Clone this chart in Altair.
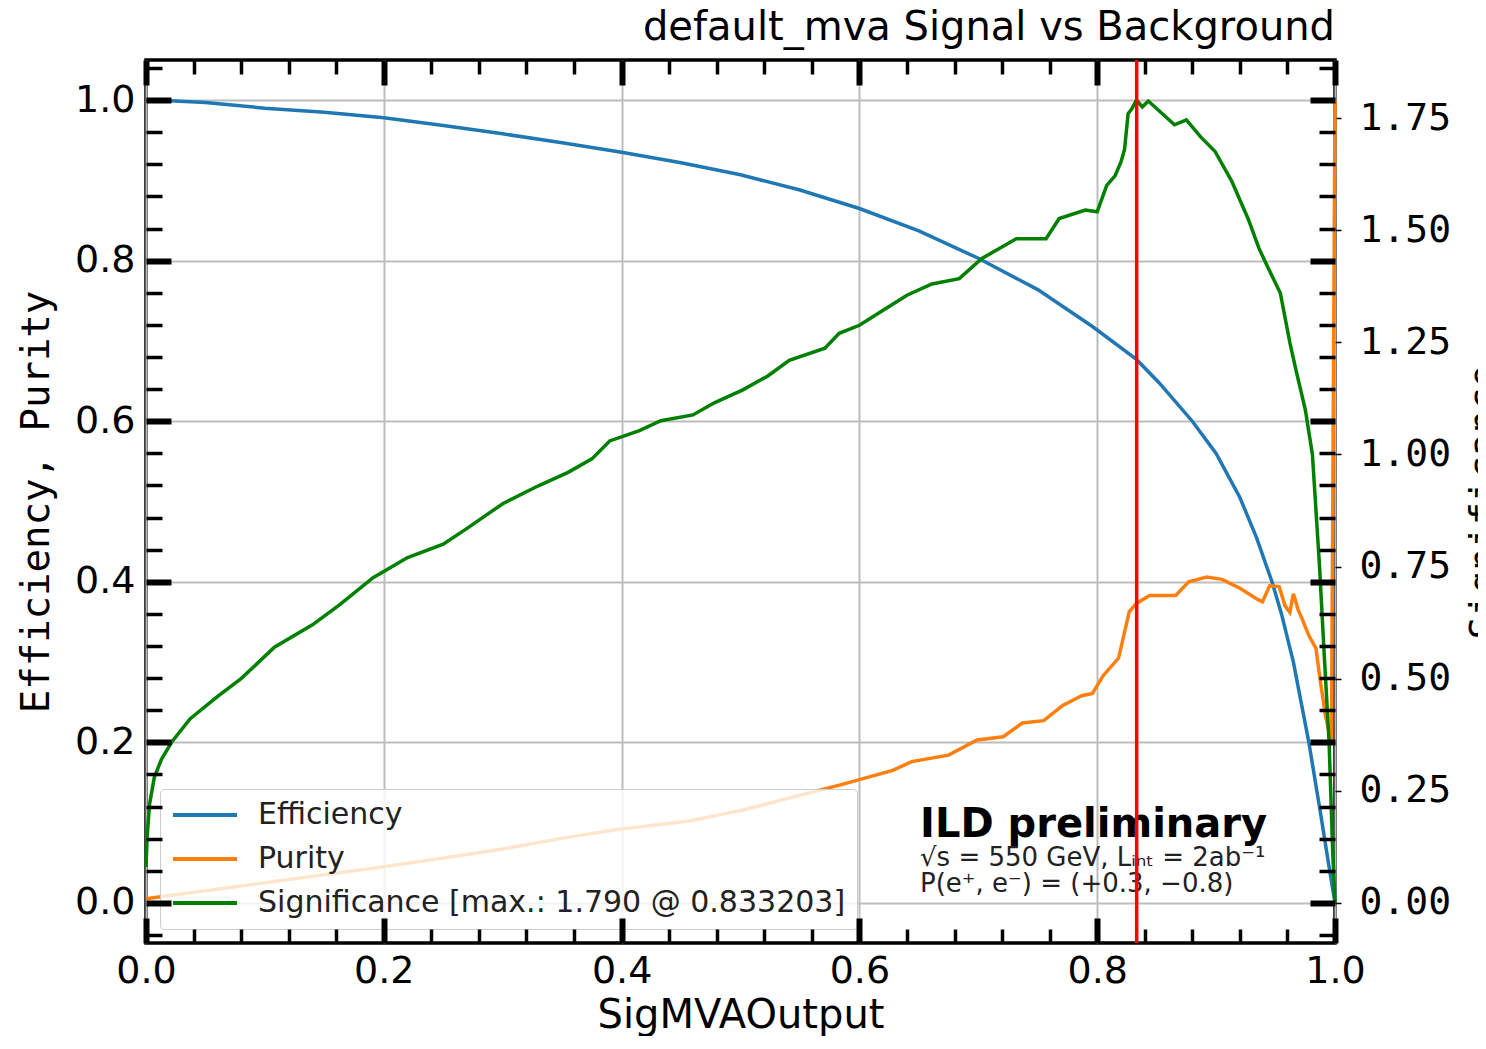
import altair as alt
import pandas as pd

# ---------------- data ----------------
x_eff = [0.0, 0.02, 0.05, 0.1, 0.15, 0.2, 0.247, 0.3, 0.35, 0.4, 0.45, 0.5, 0.55, 0.6,
         0.65, 0.7, 0.75, 0.796, 0.833, 0.852, 0.88, 0.9, 0.92, 0.934, 0.947, 0.955,
         0.965, 0.978, 0.988, 0.995, 1.0]
eff = [1.0, 0.9993, 0.997, 0.99, 0.985, 0.978, 0.969, 0.958, 0.947, 0.935, 0.922, 0.907,
       0.888, 0.865, 0.837, 0.803, 0.764, 0.718, 0.677, 0.648, 0.60, 0.56, 0.505, 0.455,
       0.40, 0.36, 0.30, 0.20, 0.11, 0.045, 0.0]

x_pur = [0.0, 0.05, 0.1, 0.15, 0.2, 0.25, 0.3, 0.348, 0.395, 0.457, 0.503, 0.55, 0.584,
         0.628, 0.644, 0.675, 0.699, 0.721, 0.737, 0.755, 0.771, 0.787, 0.796, 0.805,
         0.818, 0.827, 0.833, 0.844, 0.866, 0.877, 0.892, 0.905, 0.92, 0.935, 0.939,
         0.945, 0.953, 0.958, 0.962, 0.965, 0.969, 0.972, 0.978, 0.984, 0.987, 0.992,
         0.997, 1.0]
pur = [0.005, 0.015, 0.025, 0.035, 0.045, 0.056, 0.067, 0.080, 0.091, 0.102, 0.116, 0.134,
       0.147, 0.165, 0.176, 0.184, 0.203, 0.207, 0.224, 0.227, 0.246, 0.258, 0.261, 0.283,
       0.305, 0.363, 0.373, 0.383, 0.383, 0.400, 0.406, 0.403, 0.392, 0.378, 0.375,
       0.395, 0.394, 0.370, 0.362, 0.385, 0.365, 0.355, 0.333, 0.317, 0.283, 0.233,
       0.20, 1.0]

x_sig = [0.0, 0.001, 0.003, 0.007, 0.013, 0.022, 0.037, 0.06, 0.08, 0.108,
         0.14, 0.163, 0.191, 0.22, 0.25, 0.27, 0.30, 0.33, 0.355, 0.375,
         0.39, 0.415, 0.433, 0.46, 0.478, 0.502, 0.523, 0.541, 0.571, 0.583,
         0.60, 0.625, 0.64, 0.661, 0.684, 0.703, 0.732, 0.757, 0.768, 0.79,
         0.80, 0.808, 0.815, 0.82, 0.823, 0.826, 0.829, 0.833, 0.838, 0.843,
         0.865, 0.875, 0.887, 0.899, 0.913, 0.927, 0.936, 0.943, 0.954, 0.962,
         0.967, 0.975, 0.981, 0.987, 0.991, 0.995, 0.998, 1.0]
sig = [0.08, 0.15, 0.22, 0.28, 0.32, 0.36, 0.41, 0.46, 0.50, 0.57,
       0.62, 0.665, 0.725, 0.77, 0.80, 0.835, 0.89, 0.93, 0.96, 0.99,
       1.03, 1.053, 1.075, 1.088, 1.115, 1.144, 1.175, 1.21, 1.237, 1.27,
       1.288, 1.33, 1.355, 1.38, 1.392, 1.437, 1.481, 1.481, 1.526, 1.545,
       1.541, 1.60, 1.621, 1.652, 1.68, 1.76, 1.77, 1.79, 1.775, 1.788,
       1.735, 1.746, 1.708, 1.676, 1.61, 1.525, 1.46, 1.42, 1.36, 1.25,
       1.19, 1.10, 1.00, 0.75, 0.55, 0.36, 0.12, 0.0]

series_names = ["Efficiency", "Purity", "Significance [max.: 1.790 @ 0.833203]"]
series_colors = ["#1f77b4", "#ff7f0e", "#008000"]
cut_value = [0.833203]

title_text = "default_mva Signal vs Background"
x_title = "SigMVAOutput"
y_title = "Efficiency, Purity"
y2_title = "Significance"

ann_x = [0.651, 0.651, 0.651]
ann_y = [0.0822, 0.0461, 0.0137]
ann_text = ["ILD preliminary",
            "\u221as = 550 GeV, L\u1d62\u2099\u209c = 2ab\u207b\u00b9",
            "P(e\u207a, e\u207b) = (+0.3, \u22120.8)"]

x_major = [0.0, 0.2, 0.4, 0.6, 0.8, 1.0]
x_minor = [0.04, 0.08, 0.12, 0.16, 0.24, 0.28, 0.32, 0.36, 0.44, 0.48, 0.52, 0.56,
           0.64, 0.68, 0.72, 0.76, 0.84, 0.88, 0.92, 0.96]
y_major = [0.0, 0.2, 0.4, 0.6, 0.8, 1.0]
y_minor = [-0.04, 0.04, 0.08, 0.12, 0.16, 0.24, 0.28, 0.32, 0.36, 0.44, 0.48, 0.52,
           0.56, 0.64, 0.68, 0.72, 0.76, 0.84, 0.88, 0.92, 0.96, 1.04]
y2_ticks = [0.0, 0.25, 0.5, 0.75, 1.0, 1.25, 1.5, 1.75]

# ---------------- tables ----------------
df_ep = pd.concat([
    pd.DataFrame({"x": x_eff, "value": eff, "series": series_names[0]}),
    pd.DataFrame({"x": x_pur, "value": pur, "series": series_names[1]}),
])
df_sig = pd.DataFrame({"x": x_sig, "value": sig, "series": series_names[2]})
df_cut = pd.DataFrame({"x": cut_value})

W, H = 1189, 883
SANS = "DejaVu Sans"
MONO = "DejaVu Sans Mono"

xscale = alt.Scale(domain=[0, 1], nice=False, zero=False)
yscale = alt.Scale(domain=[-0.05, 1.05], nice=False, zero=False)
y2scale = alt.Scale(domain=[-0.0895, 1.8795], nice=False, zero=False)
cscale = alt.Scale(domain=series_names, range=series_colors)

legend = alt.Legend(
    orient="none", legendX=14, legendY=729, title=None,
    fillColor="rgba(255,255,255,0.8)", strokeColor="#cccccc", cornerRadius=4,
    padding=11, symbolType="stroke", symbolSize=4096, symbolStrokeWidth=4,
    clipHeight=30, rowPadding=14, labelOffset=19, labelFont=SANS,
    labelFontSize=30, labelColor="#222222", labelLimit=1000,
)


def tick_axis(orient, values, size, width, offset):
    return alt.Axis(orient=orient, values=values, offset=offset, ticks=True,
                    tickSize=size, tickWidth=width, tickColor="black",
                    labels=False, domain=False, grid=False, title=None, zindex=2)


x_label_axis = alt.Axis(
    orient="bottom", values=x_major, format=".1f", ticks=False, domain=False,
    grid=True, gridColor="#bdbdbd", gridWidth=2, labelFlush=False, labelOverlap=False,
    labelFont=SANS, labelFontSize=38, labelColor="black", labelPadding=9,
    title=x_title, titleFont=SANS, titleFontSize=40, titleFontWeight="normal",
    titleColor="black", titleX=W / 2, titleY=84, titleAlign="center",
    titleBaseline="alphabetic",
)
y_label_axis = alt.Axis(
    orient="left", values=y_major, format=".1f", ticks=False, domain=False,
    grid=True, gridColor="#bdbdbd", gridWidth=2, labelFlush=False, labelOverlap=False,
    labelFont=SANS, labelFontSize=38, labelColor="black", labelPadding=11,
    title=y_title, titleFont=MONO, titleFontSize=39, titleFontWeight="normal",
    titleColor="black", titleAngle=270, titleX=-98, titleY=H / 2,
    titleAlign="center", titleBaseline="alphabetic",
)
y2_axis = alt.Axis(
    orient="right", values=y2_ticks, format=".2f", ticks=True, tickSize=6,
    tickWidth=1.5, tickColor="black", domain=False, grid=False, labelFlush=False,
    labelOverlap=False, labelFont=MONO, labelFontSize=38, labelColor="black",
    labelPadding=18, title=y2_title, titleFont=MONO, titleFontSize=38,
    titleFontWeight="normal", titleColor="black", titleAngle=270, titleX=160,
    titleY=H / 2, titleAlign="center", titleBaseline="alphabetic",
)

lines_ep = alt.Chart(df_ep).mark_line(strokeWidth=3.5).encode(
    x=alt.X("x:Q", scale=xscale, axis=x_label_axis),
    y=alt.Y("value:Q", scale=yscale, axis=y_label_axis),
    color=alt.Color("series:N", scale=cscale, legend=legend),
    order="x:Q",
)

ticks_a = alt.Chart(df_ep).mark_line(opacity=0).encode(
    x=alt.X("x:Q", scale=xscale, axis=tick_axis("bottom", x_major, 25, 6, -H)),
    y=alt.Y("value:Q", scale=yscale, axis=tick_axis("right", y_major, 25, 6, -W)),
)
ticks_b = alt.Chart(df_ep).mark_line(opacity=0).encode(
    x=alt.X("x:Q", scale=xscale, axis=tick_axis("bottom", x_minor, 14, 3.5, -H)),
    y=alt.Y("value:Q", scale=yscale, axis=tick_axis("right", y_minor, 16, 3.5, -W)),
)
ticks_c = alt.Chart(df_ep).mark_line(opacity=0).encode(
    x=alt.X("x:Q", scale=xscale, axis=tick_axis("top", x_major, 25, 6, -H)),
    y=alt.Y("value:Q", scale=yscale, axis=tick_axis("left", y_major, 25, 6, -W)),
)
ticks_d = alt.Chart(df_ep).mark_line(opacity=0).encode(
    x=alt.X("x:Q", scale=xscale, axis=tick_axis("top", x_minor, 14, 3.5, -H)),
    y=alt.Y("value:Q", scale=yscale, axis=tick_axis("left", y_minor, 16, 3.5, -W)),
)

line_sig = alt.Chart(df_sig).mark_line(strokeWidth=3.5).encode(
    x=alt.X("x:Q", scale=xscale, axis=None),
    y=alt.Y("value:Q", scale=y2scale, axis=y2_axis),
    color=alt.Color("series:N", scale=cscale, legend=legend),
    order="x:Q",
)

ann_df = pd.DataFrame({"x": ann_x, "y": ann_y, "t": ann_text})
ann_bold = alt.Chart(ann_df.iloc[[0]]).mark_text(
    align="left", baseline="alphabetic", font=SANS, fontSize=40,
    fontWeight="bold", color="black",
).encode(
    x=alt.X("x:Q", scale=xscale, axis=None),
    y=alt.Y("y:Q", scale=yscale, axis=None),
    text="t:N",
)
ann_small = alt.Chart(ann_df.iloc[1:]).mark_text(
    align="left", baseline="alphabetic", font=SANS, fontSize=26, color="#222222",
).encode(
    x=alt.X("x:Q", scale=xscale, axis=None),
    y=alt.Y("y:Q", scale=yscale, axis=None),
    text="t:N",
)

cut_rule = alt.Chart(df_cut).mark_rule(color="red", strokeWidth=3.5).encode(
    x=alt.X("x:Q", scale=xscale, axis=None),
)

chart = alt.layer(
    lines_ep, ticks_a, ticks_b, ticks_c, ticks_d, line_sig, ann_bold, ann_small, cut_rule
).resolve_scale(
    y="independent"
).resolve_axis(
    x="independent", y="independent"
).properties(
    width=W, height=H,
    autosize=alt.AutoSizeParams(type="none"),
    padding={"left": 138, "top": 52, "right": 143, "bottom": 93},
    background="white",
    title=alt.TitleParams(
        text=title_text, anchor="end", frame="group", font=SANS, fontSize=40,
        fontWeight="normal", color="black", offset=9,
    ),
).configure_view(stroke="black", strokeWidth=3.5)

chart.save("out.html", embed_options={"renderer": "svg", "actions": False})
